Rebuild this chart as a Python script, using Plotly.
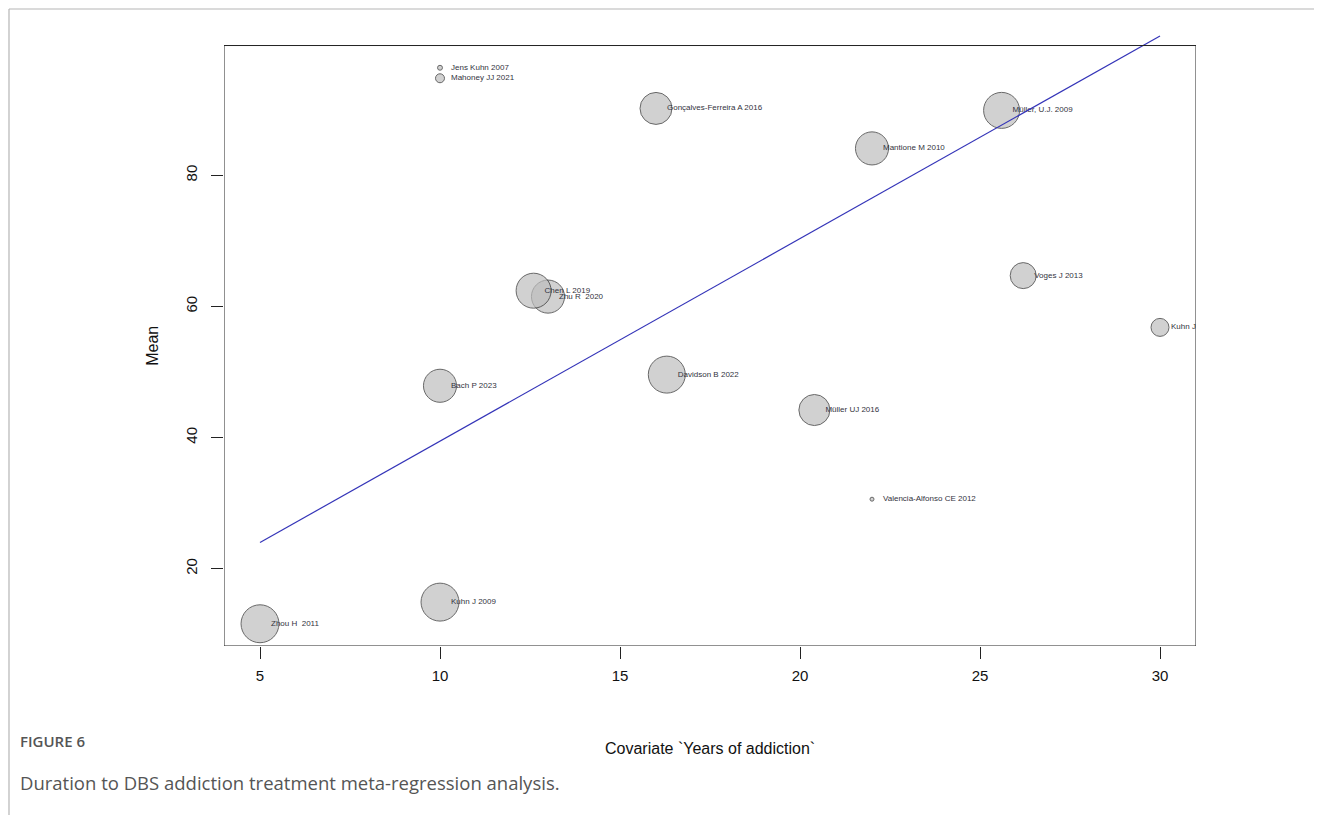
import plotly.graph_objects as go

# ---------------- data ----------------
studies = ["Jens Kuhn 2007", "Mahoney JJ 2021", "Gonçalves-Ferreira A 2016",
           "Müller, U.J. 2009", "Mantione M 2010", "Zhu R\u00a0 2020", "Chen L 2019",
           "Voges J 2013", "Kuhn J 2011", "Bach P 2023", "Davidson B 2022",
           "Müller UJ 2016", "Valencia-Alfonso CE 2012", "Zhou H\u00a0 2011", "Kuhn J 2009"]
years = [10.0, 10.0, 16.0, 25.6, 22.0, 13.0, 12.6, 26.2, 30.0, 10.0, 16.3, 20.4, 22.0, 5.0, 10.0]
means = [96.4, 94.8, 90.2, 89.9, 84.1, 61.5, 62.4, 64.7, 56.8, 47.9, 49.6, 44.2, 30.6, 11.6, 14.9]
weights = [0.17, 0.56, 7.1, 9.0, 7.6, 7.6, 8.5, 4.7, 2.25, 7.6, 9.5, 6.7, 0.11, 10.0, 10.0]

reg_intercept = 8.55
reg_slope = 3.09

x_ticks = [5, 10, 15, 20, 25, 30]
y_ticks = [20, 40, 60, 80]

x_title = "Covariate `Years of addiction`"
y_title = "Mean"
fig_label = "FIGURE 6"
caption = "Duration to DBS addiction treatment meta-regression analysis."

# ---------------- derived ----------------
xmin, xmax = min(years), max(years)
ymin, ymax = min(means), max(means)
xlo, xhi = xmin - 0.04 * (xmax - xmin), xmax + 0.04 * (xmax - xmin)
ylo, yhi = ymin - 0.04 * (ymax - ymin), ymax + 0.04 * (ymax - ymin)
reg_x = [xmin, xmax]
reg_y = [reg_intercept + reg_slope * v for v in reg_x]
y_top = max(yhi, max(reg_y)) + 0.3

diam = [12 * w ** 0.5 for w in weights]

OFF = 8  # page body margin
W, H = 1322 - OFF, 815 - OFF
ML, MR, MT, MB = 224 - OFF, 126, 34 - OFF, 169
PW, PH = W - ML - MR, H - MT - MB


def px(x):  # page pixel -> paper
    return (x - OFF - ML) / PW


def py(y):
    return (H - MB - (y - OFF)) / PH


fig = go.Figure()

fig.add_trace(go.Scatter(
    x=years, y=means, mode="markers",
    marker=dict(size=diam, color="#bebebe", line=dict(color="#2a2a2a", width=1)),
    hoverinfo="skip", showlegend=False, cliponaxis=True))

fig.add_trace(go.Scatter(
    x=years, y=means, mode="markers+text", text=studies,
    textposition="middle right",
    textfont=dict(family="Liberation Sans, Arial", size=8, color="#333340"),
    marker=dict(size=16, opacity=0),
    hoverinfo="skip", showlegend=False, cliponaxis=True))

fig.add_trace(go.Scatter(
    x=reg_x, y=reg_y, mode="lines",
    line=dict(color="#3434b8", width=1.2),
    hoverinfo="skip", showlegend=False))

axis_font = dict(family="Liberation Sans, Arial", size=15, color="#111")

fig.update_layout(
    width=W, height=H,
    margin=dict(l=ML, r=MR, t=MT, b=MB, autoexpand=False),
    paper_bgcolor="white", plot_bgcolor="white",
    xaxis=dict(range=[xlo, xhi], tickvals=x_ticks, ticks="outside", ticklen=12,
               tickwidth=1, tickcolor="#222", showline=False, showgrid=False,
               zeroline=False, tickfont=axis_font, ticklabelstandoff=4),
    yaxis=dict(range=[ylo, y_top], tickvals=y_ticks, ticks="outside", ticklen=12,
               tickwidth=1, tickcolor="#222", showline=False, showgrid=False,
               zeroline=False, tickfont=axis_font, tickangle=-90, ticklabelstandoff=8),
    shapes=[
        dict(type="rect", xref="x", yref="y", x0=xlo, x1=xhi, y0=ylo, y1=yhi,
             line=dict(color="#222", width=1), layer="above"),
        dict(type="line", xref="paper", yref="paper", x0=px(9), x1=px(1322), y0=py(9), y1=py(9),
             line=dict(color="#b5b5b5", width=1.2)),
        dict(type="line", xref="paper", yref="paper", x0=px(9), x1=px(9), y0=py(9), y1=py(815),
             line=dict(color="#b5b5b5", width=1.2)),
    ],
    annotations=[
        dict(text=x_title, xref="x", x=(xlo + xhi) / 2, yref="paper", y=py(748),
             xanchor="center", yanchor="middle", showarrow=False,
             font=dict(family="Liberation Sans, Arial", size=16, color="#111")),
        dict(text=y_title, xref="paper", x=px(153), yref="y", y=(ylo + yhi) / 2,
             xanchor="center", yanchor="middle", textangle=-90, showarrow=False,
             font=dict(family="Liberation Sans, Arial", size=16, color="#111")),
        dict(text=fig_label, xref="paper", x=px(18), yref="paper", y=py(741),
             xanchor="left", yanchor="middle", showarrow=False,
             font=dict(family="Open Sans", size=15, color="#555", weight=600)),
        dict(text=caption, xref="paper", x=px(18), yref="paper", y=py(782),
             xanchor="left", yanchor="middle", showarrow=False,
             font=dict(family="Open Sans", size=18.5, color="#555")),
    ],
)

fig.write_html("out.html")
